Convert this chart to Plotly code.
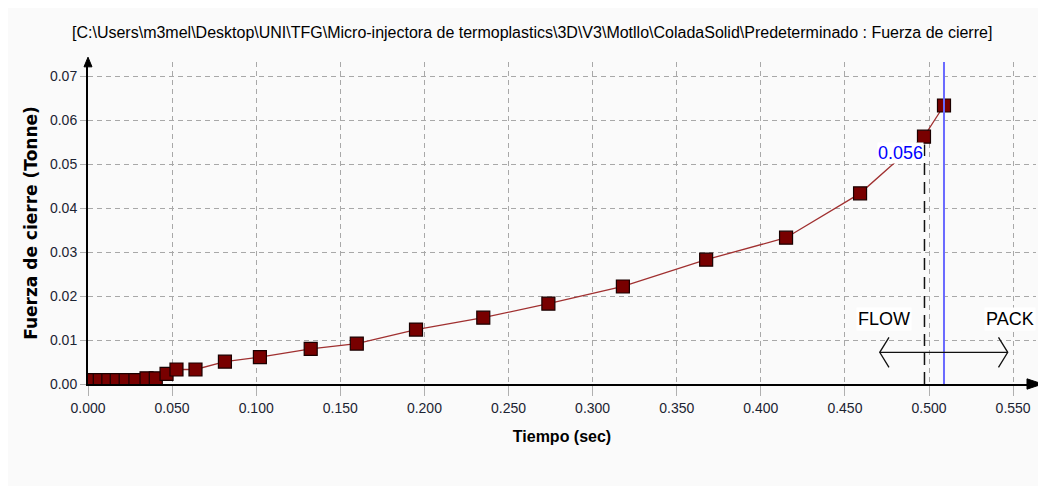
import plotly.graph_objects as go

# Data
tiempo = [0.0028, 0.0070, 0.0121, 0.0171, 0.0224, 0.0282, 0.0348, 0.0403, 0.0467, 0.0526,
          0.0639, 0.0814, 0.1022, 0.1324, 0.1598, 0.1950, 0.2350, 0.2737, 0.3180, 0.3675,
          0.4150, 0.4590, 0.4970, 0.5089]
fuerza = [0.0009, 0.0009, 0.0009, 0.0009, 0.0009, 0.0009, 0.0013, 0.0013, 0.0023, 0.0033,
          0.0033, 0.0051, 0.0061, 0.0080, 0.0092, 0.0124, 0.0151, 0.0183, 0.0222, 0.0283,
          0.0333, 0.0434, 0.0563, 0.0634]
switch_time = 0.4973
cursor_time = 0.5089
cursor_label = "0.056"
x_ticks = [0.0, 0.05, 0.10, 0.15, 0.20, 0.25, 0.30, 0.35, 0.40, 0.45, 0.50, 0.55]
x_ticktext = ["0.000", "0.050", "0.100", "0.150", "0.200", "0.250", "0.300", "0.350",
              "0.400", "0.450", "0.500", "0.550"]
y_ticks = [0.0, 0.01, 0.02, 0.03, 0.04, 0.05, 0.06, 0.07]
y_ticktext = ["0.00", "0.01", "0.02", "0.03", "0.04", "0.05", "0.06", "0.07"]
title_text = ("[C:\\Users\\m3mel\\Desktop\\UNI\\TFG\\Micro-injectora de termoplastics\\3D\\V3\\"
              "Motllo\\ColadaSolid\\Predeterminado : Fuerza de cierre]")

x_max = 0.5636
y_max = 0.0733

fig = go.Figure()
fig.add_trace(go.Scatter(
    x=tiempo, y=fuerza, mode="lines+markers",
    line=dict(color="#a03030", width=1.3),
    marker=dict(symbol="square", size=13, color="#780000",
                line=dict(color="#1a0000", width=1.2)),
    showlegend=False, hoverinfo="x+y"))

sans = "Liberation Sans"
bg = "#fafafa"

shapes = [
    # cursor line (blue)
    dict(type="line", xref="x", yref="paper", x0=cursor_time, x1=cursor_time, y0=0, y1=1.0,
         line=dict(color="#6a6aff", width=2)),
    # FLOW/PACK switch (dashed)
    dict(type="line", xref="x", yref="y", x0=switch_time, x1=switch_time, y0=0, y1=0.0545,
         line=dict(color="#111111", width=1.5, dash="12px,7px")),
    # double arrow
    dict(type="line", xref="x", yref="y", x0=0.4707, x1=0.5468, y0=0.0072, y1=0.0072,
         line=dict(color="#111111", width=1.3)),
    dict(type="path", xref="x", yref="y",
         path="M 0.4762,0.0106 L 0.4707,0.0072 L 0.4762,0.0038",
         line=dict(color="#111111", width=1.3)),
    dict(type="path", xref="x", yref="y",
         path="M 0.5413,0.0106 L 0.5468,0.0072 L 0.5413,0.0038",
         line=dict(color="#111111", width=1.3)),
    # axis arrowheads
    dict(type="path", xref="paper", yref="paper",
         path="M 0.9905,0.016 L 1.007,0 L 0.9905,-0.016 Z",
         fillcolor="#000000", line=dict(color="#000000", width=1)),
    dict(type="path", xref="paper", yref="paper",
         path="M -0.0042,0.985 L 0,1.015 L 0.0042,0.985 Z",
         fillcolor="#000000", line=dict(color="#000000", width=1)),
]

annotations = [
    dict(x=0.4734, y=0.0149, xref="x", yref="y", text="FLOW", showarrow=False,
         font=dict(family=sans, size=18, color="#000000"), bgcolor="#ffffff"),
    dict(x=1.0, y=0.0149, xref="paper", yref="y", text="PACK", showarrow=False,
         xanchor="right", font=dict(family=sans, size=18, color="#000000"),
         bgcolor="#ffffff"),
    dict(x=switch_time, y=0.0525, xref="x", yref="y", text=cursor_label, showarrow=False,
         xanchor="right", font=dict(family=sans, size=18, color="#0000ff"),
         bgcolor="#ffffff", borderpad=0),
]

fig.update_layout(
    width=1038, height=478,
    margin=dict(l=80, r=10, t=54, b=102, autoexpand=False),
    paper_bgcolor=bg, plot_bgcolor=bg,
    title=dict(text=title_text, x=0.505, xanchor="center", y=0.95, yanchor="middle",
               font=dict(family=sans, size=16, color="#000000")),
    xaxis=dict(range=[0, x_max], tickvals=x_ticks, ticktext=x_ticktext,
               showline=True, linecolor="#000000", linewidth=2,
               showgrid=True, gridcolor="#a8a8a8", griddash="5px,4px", gridwidth=1,
               ticks="outside", ticklen=10, tickcolor="#b0b0b0",
               tickfont=dict(family=sans, size=14, color="#1c2433"),
               title=dict(text="<b>Tiempo (sec)</b>", standoff=16,
                          font=dict(family=sans, size=16, color="#000000")),
               zeroline=False, fixedrange=True, automargin=False),
    yaxis=dict(range=[0, y_max], tickvals=y_ticks, ticktext=y_ticktext,
               showline=True, linecolor="#000000", linewidth=2,
               showgrid=True, gridcolor="#a8a8a8", griddash="5px,4px", gridwidth=1,
               ticks="outside", ticklen=6, tickcolor="#b0b0b0",
               tickfont=dict(family=sans, size=14, color="#1c2433"),
               title=dict(text="<b>Fuerza de cierre (Tonne)</b>", standoff=8,
                          font=dict(family="DejaVu Sans", size=17, color="#000000")),
               zeroline=False, fixedrange=True, automargin=False),
    shapes=shapes, annotations=annotations,
)

fig.write_html("out.html")
